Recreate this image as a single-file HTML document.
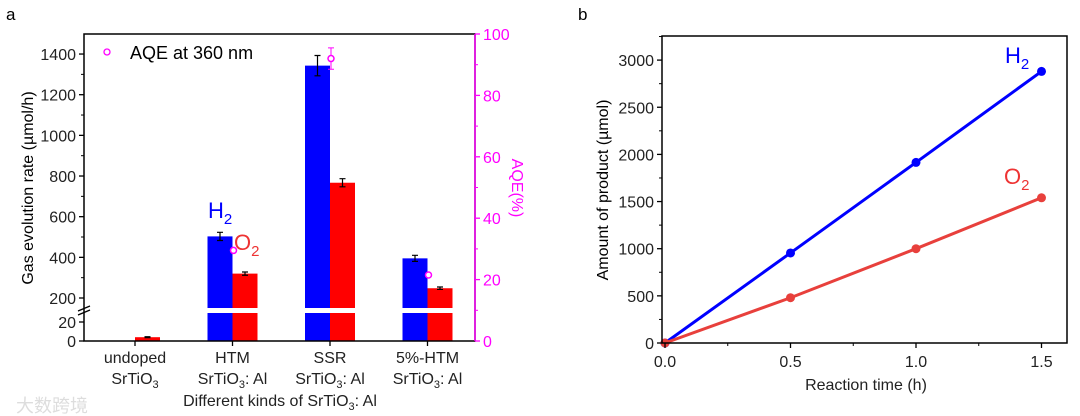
<!DOCTYPE html>
<html><head><meta charset="utf-8"><style>
html,body{margin:0;padding:0;background:#fff;width:1080px;height:416px;overflow:hidden}
svg{font-family:"Liberation Sans","Noto Sans CJK SC",sans-serif}
</style></head><body>
<svg id="fig" width="1080" height="416" viewBox="0 0 1080 416">
<text x="6" y="20" font-size="17">a</text>
<text x="578" y="20" font-size="17">b</text>
<g id="A"></g>
<g id="B"></g>
<text x="16" y="412" font-size="18" fill="#ddd">大数跨境</text>
</svg>
<script>
const categories=["undoped","HTM","SSR","5%-HTM"];
const h2Rate=[0.5,503,1343,395];
const h2Err=[0,20,50,15];
const o2Rate=[4,320,767,248];
const o2Err=[0.5,8,20,6];
const aqe=[null,29.5,92,21.5];
const aqeErr=[0,1,3.5,0.5];
const upperTicks=[200,400,600,800,1000,1200,1400];
const lowerTicks=[0,20];
const aqeTicks=[0,20,40,60,80,100];
const times=[0,0.5,1.0,1.5];
const h2Amount=[0,955,1915,2880];
const o2Amount=[0,480,1000,1540];
const xTicksB=[0,0.5,1.0,1.5];
const yTicksB=[0,500,1000,1500,2000,2500,3000];

const NS="http://www.w3.org/2000/svg";
const FS=16;
function mk(p,t,a,txt){const e=document.createElementNS(NS,t);for(const k in a)e.setAttribute(k,a[k]);if(txt!==undefined)e.textContent=txt;p.appendChild(e);return e;}
const A=document.getElementById('A'),B=document.getElementById('B');
const L=84,R=475,T=34,Bt=341;
function yA(v){ if(v<=25) return 341-v*0.95; return 298-(v-200)*0.2033; }
function yAq(v){ return 341-v*3.07; }
function xC(i){ return 135+i*97.5; }
const bw=25;
categories.forEach((c,i)=>{
  const cx=xC(i);
  let e;
  [[h2Rate,h2Err,'#0000ff',cx-bw],[o2Rate,o2Err,'#ff0000',cx]].forEach(([vals,errs,col,x0],s)=>{
    const v=vals[i];const y=yA(v);
    e=mk(A,'rect',{x:x0,y:y,width:bw,height:Bt-y,fill:col});
    
    
    if(errs[i]>0){
      const y1=yA(v+errs[i]),y2=yA(Math.max(0,v-errs[i])),xm=x0+bw/2;
      e=mk(A,'path',{d:`M${xm} ${y1}V${y2}M${xm-3} ${y1}H${xm+3}M${xm-3} ${y2}H${xm+3}`,stroke:'#000','stroke-width':1.2,fill:'none'});
      
      
    }
  });
  if(aqe[i]!==null){
    const y=yAq(aqe[i]),x=cx+1;
    if(aqeErr[i]>1){e=mk(A,'path',{d:`M${x} ${yAq(aqe[i]+aqeErr[i])}V${yAq(aqe[i]-aqeErr[i])}M${x-3} ${yAq(aqe[i]+aqeErr[i])}H${x+3}M${x-3} ${yAq(aqe[i]-aqeErr[i])}H${x+3}`,stroke:'#f0f','stroke-width':1,fill:'none'});
    }
    e=mk(A,'circle',{cx:x,cy:y,r:3,fill:'#fff',stroke:'#f0f','stroke-width':1.5});
    
    
  }
});
let g=mk(A,'rect',{x:L+1,y:308,width:R-L-2,height:5,fill:'#fff'});

g=mk(A,'path',{d:`M${L} ${T}H${R}V${Bt}H${L}Z`,fill:'none',stroke:'#000','stroke-width':1.5});

g=mk(A,'line',{x1:R,y1:T,x2:R,y2:Bt,stroke:'#f0f','stroke-width':1.5});

g=mk(A,'path',{d:`M${L-6} 311l12 -5M${L-6} 315l12 -5`,stroke:'#000','stroke-width':1.3});

upperTicks.forEach(v=>{const y=yA(v);mk(A,'line',{x1:L-5,y1:y,x2:L,y2:y,stroke:'#000','stroke-width':1.3});
  const t=mk(A,'text',{x:L-8,y:y+6,'font-size':FS,'text-anchor':'end',fill:'#222'},v);
  if(v<1400)mk(A,'line',{x1:L-3,y1:yA(v+100),x2:L,y2:yA(v+100),stroke:'#000','stroke-width':1});});
lowerTicks.forEach(v=>{const y=yA(v);mk(A,'line',{x1:L-5,y1:y,x2:L,y2:y,stroke:'#000','stroke-width':1.3});
  const t=mk(A,'text',{x:L-8,y:y+6,'font-size':FS,'text-anchor':'end',fill:'#222'},v);});
aqeTicks.forEach(v=>{const y=yAq(v);mk(A,'line',{x1:R,y1:y,x2:R+5,y2:y,stroke:'#f0f','stroke-width':1.3});
  if(v<100)mk(A,'line',{x1:R,y1:yAq(v+10),x2:R+3,y2:yAq(v+10),stroke:'#f0f','stroke-width':1});
  const t=mk(A,'text',{x:R+8,y:y+6,'font-size':FS,fill:'#f0f'},v);});
categories.forEach((c,i)=>{const x=xC(i);mk(A,'line',{x1:x,y1:Bt,x2:x,y2:Bt+5,stroke:'#000','stroke-width':1.3});
  let t=mk(A,'text',{x:x,y:363,'font-size':FS,'text-anchor':'middle',fill:'#222'},c);
  t=mk(A,'text',{x:x,y:384,'font-size':FS,'text-anchor':'middle',fill:'#222'});t.innerHTML= i==0?'SrTiO<tspan font-size="11" dy="4">3</tspan>':'SrTiO<tspan font-size="11" dy="4">3</tspan><tspan dy="-4">: Al</tspan>';
  });
let t=mk(A,'text',{x:280,y:406,'font-size':FS,'text-anchor':'middle',fill:'#222'});t.innerHTML='Different kinds of SrTiO<tspan font-size="11" dy="4">3</tspan><tspan dy="-4">: Al</tspan>';

t=mk(A,'text',{transform:'translate(33 188) rotate(-90)','font-size':FS,'text-anchor':'middle'},'Gas evolution rate (µmol/h)');

t=mk(A,'text',{transform:'translate(512 188) rotate(90)','font-size':FS,'text-anchor':'middle',fill:'#f0f'},'AQE(%)');

g=mk(A,'circle',{cx:107,cy:52,r:3,fill:'#fff',stroke:'#f0f','stroke-width':1.3});
t=mk(A,'text',{x:130,y:59,'font-size':18},'AQE at 360 nm');
t=mk(A,'text',{x:208,y:218,'font-size':22,fill:'#0000ff'});t.innerHTML='H<tspan font-size="15" dy="6">2</tspan>';
t=mk(A,'text',{x:234,y:250,'font-size':22,fill:'#e33'});t.innerHTML='O<tspan font-size="15" dy="6">2</tspan>';

const L2=662,R2=1067,T2=36,B2=343;
function xB(v){return 665+v*251;}
function yB(v){return 343-v*0.0943;}
[[h2Amount,'#0000ff','h2'],[o2Amount,'#e8403c','o2']].forEach(([vals,col,n])=>{
  const e=mk(B,'polyline',{points:times.map((x,i)=>xB(x)+','+yB(vals[i])).join(' '),fill:'none',stroke:col,'stroke-width':3});
  
  times.forEach((x,i)=>{const c=mk(B,'circle',{cx:xB(x),cy:yB(vals[i]),r:4.5,fill:col});
    });
});
g=mk(B,'path',{d:`M${L2} ${T2}H${R2}V${B2}H${L2}Z`,fill:'none',stroke:'#000','stroke-width':1.5});

yTicksB.forEach(v=>{const y=yB(v);mk(B,'line',{x1:L2,y1:y,x2:L2-5,y2:y,stroke:'#000','stroke-width':1.3});
  mk(B,'line',{x1:L2,y1:yB(v+250),x2:L2-3,y2:yB(v+250),stroke:'#000','stroke-width':1});
  const t=mk(B,'text',{x:L2-8,y:y+6,'font-size':FS,'text-anchor':'end',fill:'#222'},v);});
xTicksB.forEach(v=>{const x=xB(v);mk(B,'line',{x1:x,y1:B2,x2:x,y2:B2+5,stroke:'#000','stroke-width':1.3});
  if(v<1.5)mk(B,'line',{x1:xB(v+0.25),y1:B2,x2:xB(v+0.25),y2:B2+3,stroke:'#000','stroke-width':1});
  const t=mk(B,'text',{x:x,y:367,'font-size':FS,'text-anchor':'middle',fill:'#222'},v.toFixed(1));});
t=mk(B,'text',{x:866,y:390,'font-size':FS,'text-anchor':'middle',fill:'#222'},'Reaction time (h)');
t=mk(B,'text',{transform:'translate(608 190) rotate(-90)','font-size':FS,'text-anchor':'middle'},'Amount of product (µmol)');
t=mk(B,'text',{x:1005,y:63,'font-size':22,fill:'#0000ff'});t.innerHTML='H<tspan font-size="15" dy="6">2</tspan>';
t=mk(B,'text',{x:1004,y:184,'font-size':22,fill:'#e33'});t.innerHTML='O<tspan font-size="15" dy="6">2</tspan>';
</script>
</body></html>
